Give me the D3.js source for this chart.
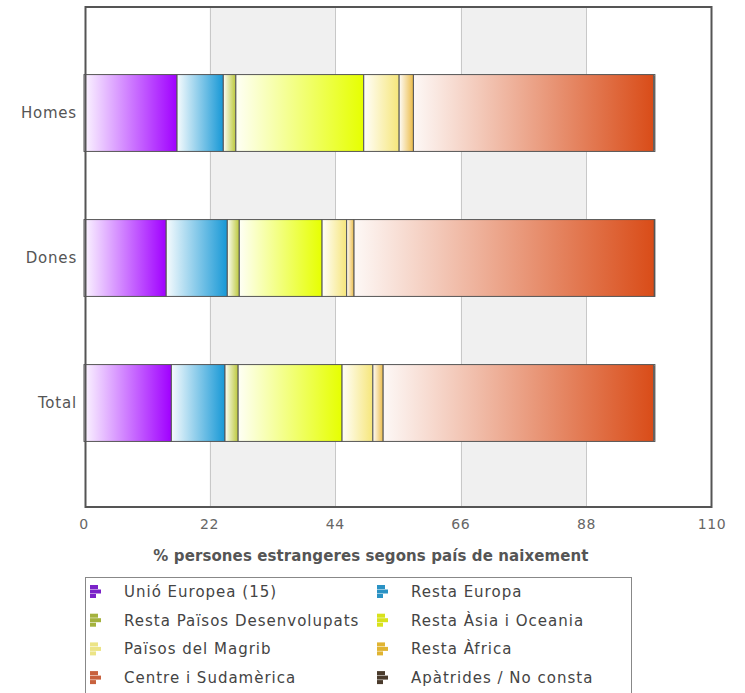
<!DOCTYPE html>
<html><head><meta charset="utf-8">
<script src="https://cdn.jsdelivr.net/npm/d3@7"></script>
<style>
html,body{margin:0;padding:0;background:#fff;}
svg{display:block;font-family:"DejaVu Sans",Verdana,sans-serif;}
</style></head>
<body>
<svg id="c" width="745" height="693"></svg>
<script>
const categories = ["Homes", "Dones", "Total"];
const seriesNames = ["Unió Europea (15)", "Resta Europa", "Resta Països Desenvolupats", "Resta Àsia i Oceania",
  "Països del Magrib", "Resta Àfrica", "Centre i Sudamèrica", "Apàtrides / No consta"];
const seriesColors = ["#a000ff", "#1798d6", "#bcc83a", "#e6ff00", "#f6e67a", "#ecbc48", "#d94c18", "#4a3b2c"];
const legendColors = ["#7a22c8", "#2a92c4", "#a4b23e", "#d8e21c", "#ece486", "#e0b432", "#c8623e", "#4a3b2c"];
const valuesHomes = [16.3, 8.1, 2.2, 22.4, 6.2, 2.5, 42.1, 0.2];
const valuesDones = [14.4, 10.7, 2.1, 14.5, 4.3, 1.3, 52.6, 0.1];
const valuesTotal = [15.3, 9.4, 2.3, 18.2, 5.4, 1.8, 47.4, 0.2];
const tickValues = [0, 22, 44, 66, 88, 110];
const axisTitle = "% persones estrangeres segons país de naixement";

const rows = [valuesHomes, valuesDones, valuesTotal];
const svg = d3.select("#c");
const P = {l: 86, r: 711, t: 7, b: 507};

const x = d3.scaleLinear().domain([0, 110]).range([84, 712]);
const y = d3.scaleBand().domain(categories).range([P.t + 33.5, P.b - 31.5]).paddingInner(0.47).paddingOuter(0.235);

const defs = svg.append("defs");
seriesColors.forEach((c, i) => {
  const g = defs.append("linearGradient").attr("id", "g" + i).attr("x1", 0).attr("x2", 1).attr("y1", 0).attr("y2", 0);
  g.append("stop").attr("offset", 0).attr("stop-color", d3.interpolateRgb("#ffffff", c)(0.04));
  g.append("stop").attr("offset", 1).attr("stop-color", c);
});

// alternate bands
const bands = d3.pairs(tickValues).filter((d, i) => i % 2 === 1);
svg.append("g").selectAll("rect").data(bands).join("rect")
  .attr("x", d => x(d[0])).attr("width", d => x(d[1]) - x(d[0]))
  .attr("y", P.t).attr("height", P.b - P.t).attr("fill", "#f0f0f0");
// grid
svg.append("g").selectAll("line").data(tickValues.slice(1, -1)).join("line")
  .attr("x1", d => Math.round(x(d)) + 0.5).attr("x2", d => Math.round(x(d)) + 0.5)
  .attr("y1", P.t).attr("y2", P.b).attr("stroke", "#c8c8c8").attr("stroke-width", 1);

// stacked bars
const stacked = categories.map((c, ci) => {
  let acc = 0;
  return rows[ci].map((v, si) => { const s = {cat: c, si, x0: acc, x1: acc + v}; acc += v; return s; });
}).flat();
svg.append("g").selectAll("rect").data(stacked).join("rect")
  .attr("x", d => x(d.x0)).attr("width", d => Math.max(0.5, x(d.x1) - x(d.x0)))
  .attr("y", d => y(d.cat)).attr("height", y.bandwidth())
  .attr("fill", d => `url(#g${d.si})`).attr("stroke", "#555").attr("stroke-width", 1);

// frame
svg.append("rect").attr("x", P.l - 0.5).attr("y", P.t).attr("width", P.r - P.l + 1).attr("height", P.b - P.t)
  .attr("fill", "none").attr("stroke", "#555").attr("stroke-width", 2);

// x tick labels
svg.append("g").selectAll("text").data(tickValues).join("text")
  .attr("x", d => x(d)).attr("y", 529).attr("text-anchor", "middle")
  .attr("font-size", 14).attr("letter-spacing", 0.6).attr("fill", "#666").text(d => d);

// category labels
svg.append("g").selectAll("text").data(categories).join("text")
  .attr("x", 77).attr("y", d => y(d) + y.bandwidth() / 2 + 5).attr("text-anchor", "end")
  .attr("font-size", 15).attr("letter-spacing", 0.8).attr("fill", "#555").text(d => d);

// axis title
svg.append("text").attr("x", 371).attr("y", 561).attr("text-anchor", "middle")
  .attr("font-size", 15).attr("font-weight", "bold").attr("letter-spacing", 0.1).attr("fill", "#555").text(axisTitle);

// legend
const L = {x: 85.5, y: 577.5, w: 546, h: 130};
svg.append("rect").attr("x", L.x).attr("y", L.y).attr("width", L.w).attr("height", L.h)
  .attr("fill", "#fff").attr("stroke", "#888").attr("stroke-width", 1);
const lg = svg.append("g").selectAll("g").data(seriesNames).join("g")
  .attr("transform", (d, i) => `translate(${i % 2 === 0 ? 90 : 377},${592 + Math.floor(i / 2) * 28.7})`);
lg.each(function(d, i) {
  const g = d3.select(this);
  [[-7, 8], [-2.5, 11], [2, 6]].forEach(([dy, w]) => {
    g.append("rect").attr("x", 0).attr("y", dy).attr("width", w).attr("height", 4).attr("fill", legendColors[i]);
  });
  g.append("text").attr("x", 34).attr("y", 5).attr("font-size", 15).attr("letter-spacing", 1)
    .attr("fill", "#444").text(d);
});
</script>
</body></html>
